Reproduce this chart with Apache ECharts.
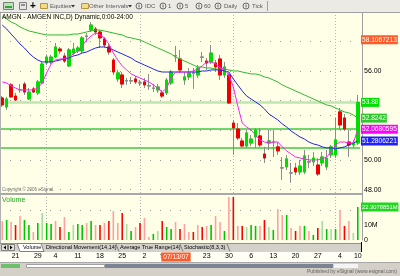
<!DOCTYPE html>
<html>
<head>
<meta charset="utf-8">
<script src="https://cdn.jsdelivr.net/npm/echarts@6.0.0/dist/echarts.min.js"></script>
<style>
html,body{margin:0;padding:0;background:#ffffe8;}
#chart{width:400px;height:276px;}
</style>
</head>
<body>
<div id="chart"></div>
<script>
// ---------------- DATA ----------------
const dates = ['05/16','05/17','05/18','05/21','05/22','05/23','05/24','05/25','05/29','05/30','05/31',
'06/01','06/04','06/05','06/06','06/07','06/08','06/11','06/12','06/13','06/14','06/15','06/18','06/19','06/20','06/21','06/22','06/25','06/26','06/27','06/28','06/29',
'07/02','07/03','07/05','07/06','07/09','07/10','07/11','07/12','07/13','07/16','07/17','07/18','07/19','07/20','07/23','07/24','07/25','07/26','07/27','07/30','07/31',
'08/01','08/02','08/03','08/06','08/07','08/08','08/09','08/10','08/13','08/14','08/15','08/16','08/17','08/20','08/21','08/22','08/23','08/24','08/27','08/28','08/29','08/30','08/31',
'09/04','09/05','09/06','09/07','09/10'];

const opens = [54.18,53.57,55.06,54.31,54.75,55.12,54.11,54.79,54.52,55.19,
56.54,56.61,56.94,57.48,57.01,56.34,57.21,57.35,57.35,58.33,
58.76,58.83,58.63,58.16,57.62,56.74,55.46,55.73,55.35,55.33,
55.46,55.21,55.26,55.01,54.83,54.72,54.52,54.52,55.19,57.01,
56.81,55.39,55.60,55.85,55.73,56.92,56.67,56.61,56.54,56.81,
55.73,55.73,52.49,52.09,51.28,50.94,51.14,51.55,51.62,50.40,
51.14,51.20,50.88,49.47,49.53,49.12,49.46,49.19,49.19,49.86,
49.87,49.66,49.80,49.53,50.34,50.34,53.24,52.83,51.21,51.01,
51.14];
const closes = [53.71,54.11,54.25,54.04,54.72,54.58,54.58,54.58,55.26,56.47,
56.94,56.94,57.62,57.35,56.67,57.42,57.48,57.55,58.23,58.36,
59.10,58.63,58.23,57.75,57.28,55.93,55.87,55.12,55.33,55.35,
55.26,55.19,55.06,54.99,54.85,54.92,54.31,55.39,55.93,57.04,
56.07,55.60,55.87,55.87,56.20,56.94,56.54,57.21,56.27,55.73,
56.27,53.84,52.16,51.48,50.94,51.82,51.41,52.02,51.01,50.13,
51.28,51.21,50.61,49.46,50.07,49.13,49.19,49.59,50.27,49.87,
50.13,49.05,50.20,50.13,50.88,51.35,52.36,52.09,51.01,51.14,
53.88];
const lows = [53.57,53.37,54.18,53.98,54.52,54.38,54.04,54.52,54.38,55.12,
56.40,56.47,56.88,57.15,56.54,56.27,57.08,57.21,57.21,57.96,
58.63,58.43,57.55,57.55,57.08,55.73,55.26,54.85,55.06,55.12,
55.12,54.99,54.85,54.72,54.58,54.52,54.18,54.38,55.06,56.61,
55.87,55.06,55.39,54.79,55.53,56.61,56.07,56.47,55.93,55.39,
55.53,53.77,50.34,51.35,50.81,50.81,50.94,50.81,50.88,49.80,
50.67,50.20,50.34,48.65,49.32,48.45,48.99,48.99,49.05,49.46,
49.59,48.92,49.59,49.32,50.13,50.13,52.02,51.95,50.20,50.81,
51.01];
const highs = [54.31,54.25,55.19,54.52,55.12,55.26,54.85,54.92,55.39,56.61,
57.08,57.08,57.89,57.62,57.21,57.55,57.89,57.69,58.36,58.56,
59.30,58.97,58.76,58.29,57.82,56.88,56.07,55.93,55.53,55.60,
55.66,55.39,55.53,55.80,55.12,55.12,54.72,55.53,56.07,57.69,
57.42,55.93,56.20,56.20,56.40,57.28,56.88,57.75,56.74,57.08,
56.61,55.87,52.70,52.49,51.48,52.02,51.68,52.16,52.16,50.88,
52.02,52.02,51.21,50.20,50.34,49.80,49.80,50.00,50.67,50.34,
50.54,50.13,50.54,50.67,51.01,52.83,53.51,53.10,52.02,51.35,
54.38];

const maSlow = [59.71,59.51,59.30,59.17,58.97,58.83,58.70,58.63,58.56,58.49,
58.43,58.43,58.43,58.43,58.43,58.43,58.49,58.49,58.56,58.63,
58.70,58.76,58.76,58.70,58.63,58.56,58.49,58.43,58.29,58.23,
58.16,58.09,57.96,57.82,57.69,57.55,57.42,57.28,57.15,56.94,
56.81,56.67,56.54,56.40,56.27,56.27,56.20,56.20,56.13,56.13,
56.13,56.07,56.00,56.00,55.93,55.87,55.80,55.80,55.73,55.60,
55.53,55.39,55.26,55.06,54.92,54.79,54.65,54.52,54.38,54.25,
54.11,53.98,53.84,53.71,53.64,53.51,53.37,53.24,53.17,53.03,
52.82];
const maMid = [59.10,58.83,58.49,58.16,57.82,57.55,57.21,56.94,56.74,56.61,
56.61,56.61,56.67,56.74,56.81,56.88,57.01,57.08,57.21,57.28,
57.42,57.55,57.62,57.62,57.55,57.42,57.28,57.15,57.01,56.88,
56.67,56.54,56.40,56.27,56.13,56.00,55.93,55.93,55.93,55.93,
55.93,55.93,55.93,55.93,55.93,56.00,56.00,56.07,56.07,56.07,
56.00,55.93,55.46,55.06,54.65,54.31,54.11,53.91,53.71,53.44,
53.10,52.90,52.70,52.43,52.22,51.95,51.75,51.55,51.41,51.21,
51.08,51.01,50.88,50.81,50.81,50.74,50.81,50.88,51.01,51.14,
51.28];
const maFast = [55.26,55.19,54.99,54.85,54.72,54.72,54.72,54.72,54.85,55.19,
55.87,56.47,56.74,56.81,56.81,56.94,57.15,57.35,57.69,58.09,
58.36,58.56,58.43,58.23,57.82,57.21,56.74,56.34,56.07,55.80,
55.66,55.53,55.39,55.26,55.06,54.85,54.58,54.85,55.53,55.93,
55.93,55.93,55.93,56.00,56.13,56.34,56.61,56.61,56.47,56.20,
56.13,55.73,54.92,53.64,52.49,52.22,52.02,51.68,51.35,51.21,
51.14,51.21,51.21,50.88,50.61,50.40,50.20,50.13,50.07,50.00,
50.00,50.00,50.07,50.20,50.54,51.01,51.21,51.21,51.14,51.14,
52.07];

// volume in millions
const volumes = [12.8,13.5,12.2,10.1,16.2,13.5,10.1,5.4,11.5,18.2,
11.5,10.8,12.8,8.8,15.5,5.4,10.1,10.8,10.1,11.5,
12.8,10.1,10.1,11.5,12.8,19.6,11.5,18.2,10.8,6.1,
8.8,11.5,14.9,2.0,4.1,6.1,12.8,8.8,7.4,12.2,
7.4,10.8,5.4,5.4,10.1,8.8,9.5,10.1,16.2,12.2,
6.1,29.1,29.1,9.5,9.5,8.8,10.1,9.5,9.5,13.5,
8.8,6.8,20.9,16.9,16.9,8.1,6.1,9.5,9.5,6.1,
3.4,8.1,12.8,7.4,7.4,7.4,20.3,9.5,12.8,4.7,
22.31];
// U strong up, u weak up, D strong down, d weak down
const volTrend = ['d','U','d','D','d','U','U','d','U','u',
'U','U','d','D','d','U','u','U','U','d',
'U','d','D','d','D','d','d','D','u','U',
'd','D','d','d','U','u','D','U','U','d',
'D','d','d','D','d','D','d','U','d','d',
'U','d','D','d','D','u','U','U','d','D',
'u','U','d','d','U','d','D','d','U','d',
'U','D','u','U','u','U','d','D','d','u',
'U'];

const labelDates = ['05/21','05/29','06/04','06/11','06/18','06/25','07/02','07/09','07/23','07/30','08/06','08/13','08/20','08/27','09/04','09/10'];
const monthEndDates = ['05/31','06/29','07/31','08/31'];
const cursorDate = '07/13';
const cursorText = '07/13/07';
const priceTicks = [48, 50, 56];
const volTicks = [0, 10];
const gridLevels = [58, 56, 54, 53, 52, 50, 48];
const volGridLevels = [20];
const levelLines = [52.09, 50.81];
const priceTags = ['58.1067213', '53.88', '52.8242', '52.0680595', '51.2806221'];
const volumeTag = '22.3078851';

// ---------------- CHART ----------------
const FF = '"Liberation Sans", Arial, sans-serif';
const chart = echarts.init(document.getElementById('chart'));

const UP = '#00dd00', DOWN = '#ee0000', DOJI = '#8c8c8c';
const CLEAR = 'rgba(0,0,0,0)';
const wickData = dates.map((d, i) => [opens[i], closes[i], lows[i], highs[i]]);
const bodyData = dates.map((d, i) => {
  const o = opens[i], c = closes[i];
  const item = { value: [o, c, Math.min(o, c), Math.max(o, c)] };
  if (Math.abs(o - c) < 0.04) item.itemStyle = { color: DOJI, color0: DOJI, borderColor: DOJI, borderColor0: DOJI };
  return item;
});
const volColors = { U: '#00c400', u: '#a6dca0', D: '#ff0000', d: '#ffa0a0' };
const volData = volumes.map((v, i) => ({ value: v, itemStyle: { color: volColors[volTrend[i]] } }));

const tagStyles = [
  { bg: '#ff5a28', line: null },
  { bg: '#00e000', line: { color: '#bfe6ae', width: 2.5, type: 'solid' } },
  { bg: '#2ec82e', line: null },
  { bg: '#ff00ff', line: null },
  { bg: '#2020ff', line: null }
];
function tagLabel(text, bg, size) {
  return { show: true, position: 'end', distance: 1, formatter: text, backgroundColor: bg, color: '#fff',
    fontSize: size, fontFamily: FF, padding: [1, 1, 0, 1], lineHeight: 8 };
}
const vGrid = d => ({ xAxis: d, lineStyle: { type: [1, 2], color: '#b4b4b4', width: 1 } });

const priceMarks = []
  .concat(gridLevels.map(v => ({ yAxis: v, lineStyle: { type: [1, 9], color: '#999', width: 1 } })))
  .concat(monthEndDates.map(vGrid))
  .concat(levelLines.map(v => ({ yAxis: v, lineStyle: { type: 'solid', color: '#40c840', width: 1.5 } })))
  .concat(priceTags.map((t, k) => ({
    yAxis: parseFloat(t),
    lineStyle: tagStyles[k].line || { color: CLEAR, width: 1, type: 'solid' },
    label: tagLabel(t, tagStyles[k].bg, 6.6)
  })));

const volMarks = []
  .concat(volGridLevels.map(v => ({ yAxis: v, lineStyle: { type: [1, 9], color: '#999', width: 1 } })))
  .concat(monthEndDates.map(vGrid))
  .concat([{ yAxis: parseFloat(volumeTag), lineStyle: { color: CLEAR, width: 1, type: 'solid' }, label: tagLabel(volumeTag + 'M', '#22d622', 5.8) }]);

const option = {
  animation: false,
  backgroundColor: '#ffffe8',
  grid: [
    { left: 0, top: 13, width: 360, height: 180 },
    { left: 0, top: 196, width: 360, height: 44 }
  ],
  xAxis: [
    { type: 'category', gridIndex: 0, data: dates, boundaryGap: true,
      axisLine: { show: false }, axisTick: { show: false }, axisLabel: { show: false }, splitLine: { show: false } },
    { type: 'category', gridIndex: 1, data: dates, boundaryGap: true,
      axisLine: { show: false }, axisTick: { show: false }, splitLine: { show: false },
      axisLabel: { show: true, margin: 13, fontSize: 7, fontFamily: FF, color: '#000',
        interval: (i, v) => labelDates.includes(v),
        formatter: v => String(parseInt(v.slice(3), 10)) } }
  ],
  yAxis: [
    { type: 'value', gridIndex: 0, position: 'right', offset: 2, min: 47.77, max: 59.91,
      axisLine: { show: true, lineStyle: { color: '#a0a0a0' } }, axisTick: { show: false }, splitLine: { show: false },
      axisLabel: { customValues: priceTicks, formatter: v => v.toFixed(2), fontSize: 7, fontFamily: FF, color: '#000', margin: 2 } },
    { type: 'value', gridIndex: 1, position: 'right', offset: 2, min: 0, max: 29.7,
      axisLine: { show: true, lineStyle: { color: '#a0a0a0' } }, axisTick: { show: false }, splitLine: { show: false },
      axisLabel: { customValues: volTicks, formatter: v => v === 0 ? '0' : v + 'M', fontSize: 7, fontFamily: FF, color: '#000', margin: 2 } }
  ],
  series: [
    { type: 'candlestick', xAxisIndex: 0, yAxisIndex: 0, data: wickData, barWidth: 3, z: 2,
      itemStyle: { color: '#a0a0a0', color0: '#a0a0a0', borderColor: '#8c8c8c', borderColor0: '#8c8c8c', borderWidth: 1 },
      markLine: { silent: true, symbol: ['none', 'none'], label: { show: false }, data: priceMarks, z: 1 } },
    { type: 'candlestick', xAxisIndex: 0, yAxisIndex: 0, data: bodyData, barWidth: 3, z: 3,
      itemStyle: { color: UP, color0: DOWN, borderColor: UP, borderColor0: DOWN, borderWidth: 1 } },
    { type: 'line', xAxisIndex: 0, yAxisIndex: 0, data: maSlow, symbol: 'none', z: 4,
      lineStyle: { color: '#2fb82f', width: 1 } },
    { type: 'line', xAxisIndex: 0, yAxisIndex: 0, data: maMid, symbol: 'none', z: 4,
      lineStyle: { color: '#2424e0', width: 1 } },
    { type: 'line', xAxisIndex: 0, yAxisIndex: 0, data: maFast, symbol: 'none', z: 4,
      lineStyle: { color: '#ff20ff', width: 1 } },
    { type: 'bar', xAxisIndex: 1, yAxisIndex: 1, data: volData, barWidth: 1.6, z: 3,
      markLine: { silent: true, symbol: ['none', 'none'], label: { show: false }, data: volMarks, z: 1 } }
  ]
};
chart.setOption(option);

// ---------- chrome (toolbar, tabs, footer) ----------
const G = [];
function rect(x, y, w, h, fill, stroke, z) { G.push({ type: 'rect', silent: true, z: z == null ? 50 : z, shape: { x, y, width: w, height: h }, style: { fill: fill || 'none', stroke: stroke || null, lineWidth: 1 } }); }
function line(x1, y1, x2, y2, stroke, z) { G.push({ type: 'line', silent: true, z: z == null ? 55 : z, shape: { x1, y1, x2, y2 }, style: { stroke, lineWidth: 1 } }); }
function text(x, y, s, size, fill, opts) { G.push({ type: 'text', silent: true, z: 60, x, y, style: Object.assign({ text: s, fontSize: size, fontFamily: FF, fill, align: 'left', verticalAlign: 'middle' }, opts || {}) }); }
function circle(cx, cy, r, stroke) { G.push({ type: 'circle', silent: true, z: 60, shape: { cx, cy, r }, style: { stroke, fill: 'none', lineWidth: 1 } }); }
function poly(points, fill, stroke, z) { G.push({ type: 'polygon', silent: true, z: z == null ? 60 : z, shape: { points }, style: { fill, stroke: stroke || null, lineWidth: 1 } }); }

// toolbar
rect(0, 0, 400, 12, '#ebeae4');
line(0, 12.5, 400, 12.5, '#a0a0a0');
rect(3.5, 2.5, 10, 7, '#c4dcc4', '#6a8a6a');
rect(5, 6, 7, 2, '#2ea82e');
rect(19.5, 2.5, 7, 7, '#e6e6e6', '#808080');
rect(21, 4, 4, 2, '#909090');
text(30, 6, '+', 10, '#000', { fontWeight: 'bold' });
rect(40.5, 3.5, 7, 5, '#f2dc8c', '#b8973c');
text(50, 6, 'Equities', 6, '#5a5a5a');
poly([[71, 5], [75, 5], [73, 7.5]], '#333');
rect(81.5, 3.5, 7, 5, '#f2dc8c', '#b8973c');
text(89, 6, 'Other Intervals', 6, '#5a5a5a');
poly([[128, 5], [132, 5], [130, 7.5]], '#333');
[[139, 'IDC', 145], [163, '1', 168], [180, '5', 185], [199, '60', 204], [218, 'Daily', 224], [246, 'Tick', 252]].forEach(a => {
  circle(a[0], 6, 3, '#6a6a6a');
  line(a[0], 4.5, a[0], 7.5, '#6a6a6a', 60);
  text(a[2], 6, a[1], 6, '#5a5a5a');
});
line(267.5, 1, 267.5, 11, '#a0a0a0');

// chart frame texts
line(0.5, 13, 0.5, 243, '#b0b0b0');
text(2, 17.5, 'AMGN - AMGEN INC,D) Dynamic,0:00-24:00', 6.5, '#000');
text(2, 189.5, 'Copyright \u00a9 2006 eSignal.', 4.5, '#707070');
rect(0, 193, 362, 2, '#a8a8a8');
line(362.5, 193, 362.5, 196, '#a0a0a0');
text(2, 200.5, 'Volume', 7, '#1faa1f');

// tab strip
rect(0, 243, 361, 9, '#d4d1cb');
line(0, 243.5, 361, 243.5, '#909090');
rect(1.5, 244.5, 6, 6, '#e4e2dc', '#808080');
rect(8.5, 244.5, 6, 6, '#e4e2dc', '#808080');
poly([[6, 245.5], [6, 249.5], [3.5, 247.5]], '#000');
poly([[10, 245.5], [10, 249.5], [12.5, 247.5]], '#000');
poly([[17, 243.5], [41, 243.5], [44, 251.5], [20, 251.5]], '#ffffff', '#808080', 58);
text(23, 247.5, 'Volume', 5.5, '#000');
text(46, 247.5, 'Directional Movement(14,14)', 5.5, '#000');
line(116, 244, 119, 251.5, '#808080');
text(120, 247.5, 'Average True Range(14)', 5.5, '#000');
line(180, 244, 183, 251.5, '#808080');
text(184, 247.5, 'Stochastic(8,3,3)', 5.5, '#000');
line(227, 244, 230, 251.5, '#808080');
line(361.5, 242, 361.5, 252, '#000');

// date strip
rect(0, 252, 362, 10, '#fffff6', null, -10);

// footer
rect(0, 262, 400, 14, '#d4d0c8');
line(0, 262.5, 400, 262.5, '#a8a8a8');
rect(1, 264, 19, 4, '#6cc06c');
rect(26.5, 264.5, 78, 3, '#ffffff', '#a0a0a0');
rect(105, 264, 228, 4, '#7c8494');
rect(334, 264, 24, 4, '#f4f4f4');
text(397, 272, 'Published by eSignal (www.esignal.com)', 5, '#606060', { align: 'right' });

// cursor date box anchored to the date axis
const cx = chart.convertToPixel({ xAxisIndex: 1 }, cursorDate);
G.push({ type: 'text', silent: true, z: 70, x: cx - 4, y: 252.5,
  style: { text: cursorText, fontSize: 6.5, fontFamily: FF, fill: '#fff', align: 'center', verticalAlign: 'top',
    backgroundColor: '#ff5a28', padding: [1, 2, 1, 2] } });

chart.setOption({ graphic: { elements: G } });
</script>
</body>
</html>
